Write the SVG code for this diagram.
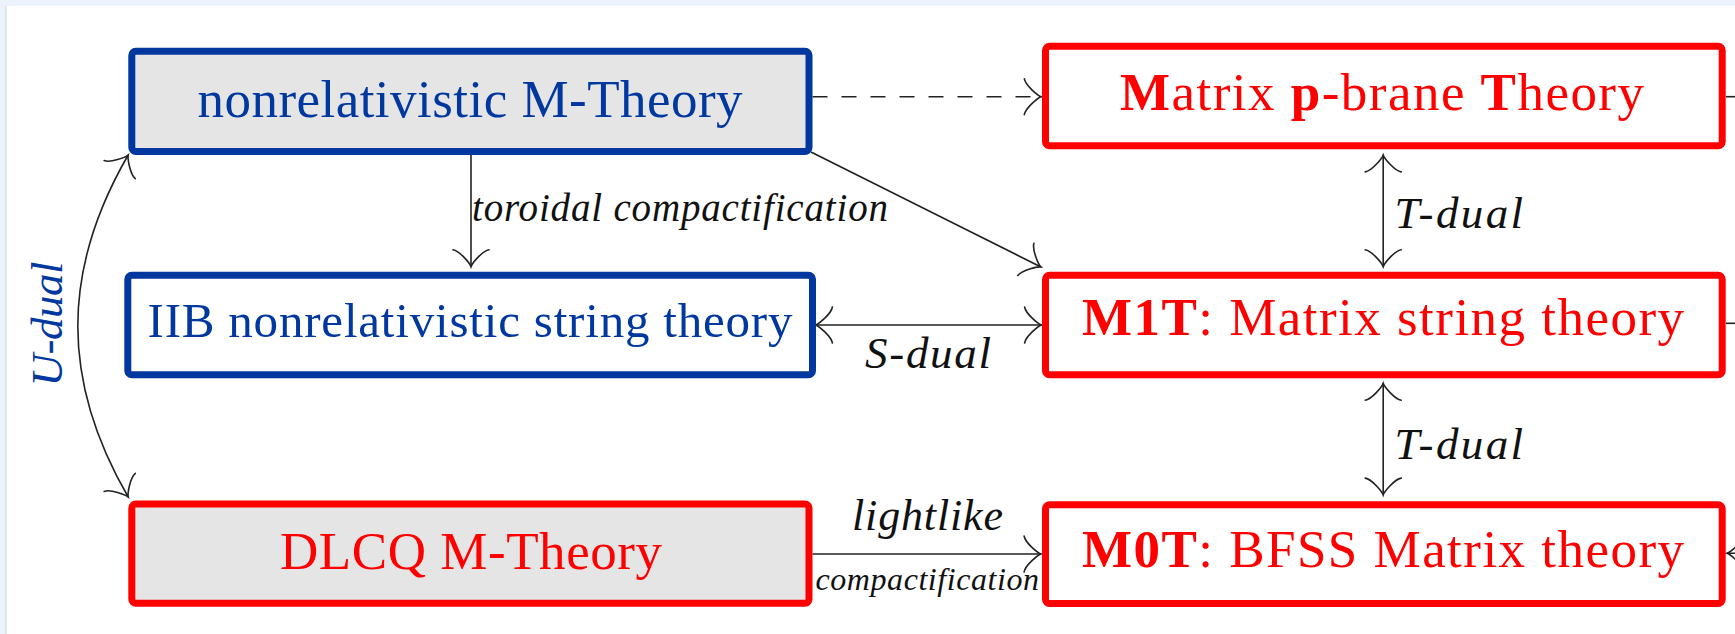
<svg xmlns="http://www.w3.org/2000/svg" width="1735" height="634" viewBox="0 0 1735 634">
<style>
.box{stroke-width:7}
.blue{stroke:#0038a0}
.red{stroke:#ff0000}
.gray{fill:#e5e5e5}
.white{fill:#ffffff}
.nt{font-family:"Liberation Serif","Times New Roman",serif;font-size:53px;text-anchor:middle}
.tb{fill:#0038a0}
.tr{fill:#ff0000}
.lab{font-family:"Liberation Serif","Times New Roman",serif;font-style:italic;fill:#111}
.ln{fill:none;stroke:#222;stroke-width:1.6}
</style>
<defs>
<marker id="to" markerUnits="userSpaceOnUse" viewBox="-20 -20 40 40" markerWidth="40" markerHeight="40" refX="0" refY="0" orient="auto-start-reverse" overflow="visible">
<path d="M -16.9 -18 C -15.75 -11.25 -3.4 -1.1 0 0 C -3.4 1.1 -15.75 11.25 -16.9 18" fill="none" stroke="#222" stroke-width="1.6" stroke-linecap="round"/>
</marker>
</defs>
<rect x="0" y="0" width="1735" height="634" fill="#ffffff"/>
<rect x="0" y="0" width="1735" height="6" fill="#ebf2fc"/>
<rect x="0" y="0" width="5.5" height="634" fill="#ebf2fc"/>
<line x1="6" y1="6" x2="6" y2="634" stroke="#c9ced6" stroke-width="1"/>

<g id="connectors">
<line class="ln" x1="812.5" y1="96.7" x2="1041.2" y2="96.7" stroke="#333" stroke-width="1.8" stroke-dasharray="15 14" marker-end="url(#to)"/>
<line class="ln" x1="471" y1="155" x2="471" y2="266.7" marker-end="url(#to)"/>
<line class="ln" x1="811" y1="152" x2="1041" y2="267" marker-end="url(#to)"/>
<line class="ln" x1="815.5" y1="325" x2="1041.5" y2="325" marker-start="url(#to)" marker-end="url(#to)"/>
<line class="ln" x1="1383.2" y1="155" x2="1383.2" y2="266.7" marker-start="url(#to)" marker-end="url(#to)"/>
<line class="ln" x1="1383.2" y1="383.3" x2="1383.2" y2="495" marker-start="url(#to)" marker-end="url(#to)"/>
<line class="ln" x1="812.5" y1="554" x2="1041" y2="554" marker-end="url(#to)"/>
<path class="ln" d="M 128.2 155 C 61 271 61 381 128.2 497" marker-start="url(#to)" marker-end="url(#to)"/>
<line class="ln" x1="1726" y1="96.7" x2="1740" y2="96.7"/>
<line class="ln" x1="1726" y1="323.3" x2="1740" y2="323.3"/>
<line class="ln" x1="1765" y1="553.3" x2="1727" y2="553.3" marker-end="url(#to)"/>
<text class="lab" x="472" y="221" font-size="39" textLength="416">toroidal compactification</text>
<text class="lab" x="865" y="368" font-size="45" textLength="126">S-dual</text>
<text class="lab" x="1394.5" y="228.3" font-size="45" textLength="128.5">T-dual</text>
<text class="lab" x="1394.5" y="459.3" font-size="45" textLength="128.5">T-dual</text>
<text class="lab" x="852" y="530" font-size="44" textLength="151">lightlike</text>
<text class="lab" x="815.5" y="590" font-size="32" textLength="223.5">compactification</text>
<text class="lab" x="0" y="0" font-size="45" textLength="125" text-anchor="middle" style="fill:#0038a0" transform="translate(62 324) rotate(-90)">U-dual</text>
</g>

<g id="node-nonrel-m-theory">
<rect class="box blue gray" x="131.8" y="51.3" width="677.2" height="100.2" rx="4"/>
<text class="nt tb" x="470" y="117" textLength="545">nonrelativistic M-Theory</text>
</g>
<g id="node-iib-string">
<rect class="box blue white" x="127.8" y="275.2" width="684.7" height="99.6" rx="4"/>
<text class="nt tb" x="470" y="337" style="font-size:49px" textLength="645">IIB nonrelativistic string theory</text>
</g>
<g id="node-dlcq">
<rect class="box red gray" x="131.8" y="504" width="677.2" height="99.2" rx="4"/>
<text class="nt tr" x="471" y="568.5" textLength="382">DLCQ M-Theory</text>
</g>
<g id="node-matrix-pbrane">
<rect class="box red white" x="1045.5" y="46.2" width="676.7" height="99.6" rx="4"/>
<text class="nt tr" x="1382" y="110" textLength="524"><tspan font-weight="bold">M</tspan>atrix <tspan font-weight="bold">p</tspan>-brane <tspan font-weight="bold">T</tspan>heory</text>
</g>
<g id="node-m1t">
<rect class="box red white" x="1045.5" y="275.2" width="676.7" height="99.6" rx="4"/>
<text class="nt tr" x="1383" y="335" textLength="602"><tspan font-weight="bold">M1T</tspan>: Matrix string theory</text>
</g>
<g id="node-m0t">
<rect class="box red white" x="1045.5" y="504.7" width="676.7" height="98.7" rx="4"/>
<text class="nt tr" x="1383" y="566.7" textLength="602"><tspan font-weight="bold">M0T</tspan>: BFSS Matrix theory</text>
</g>
</svg>
